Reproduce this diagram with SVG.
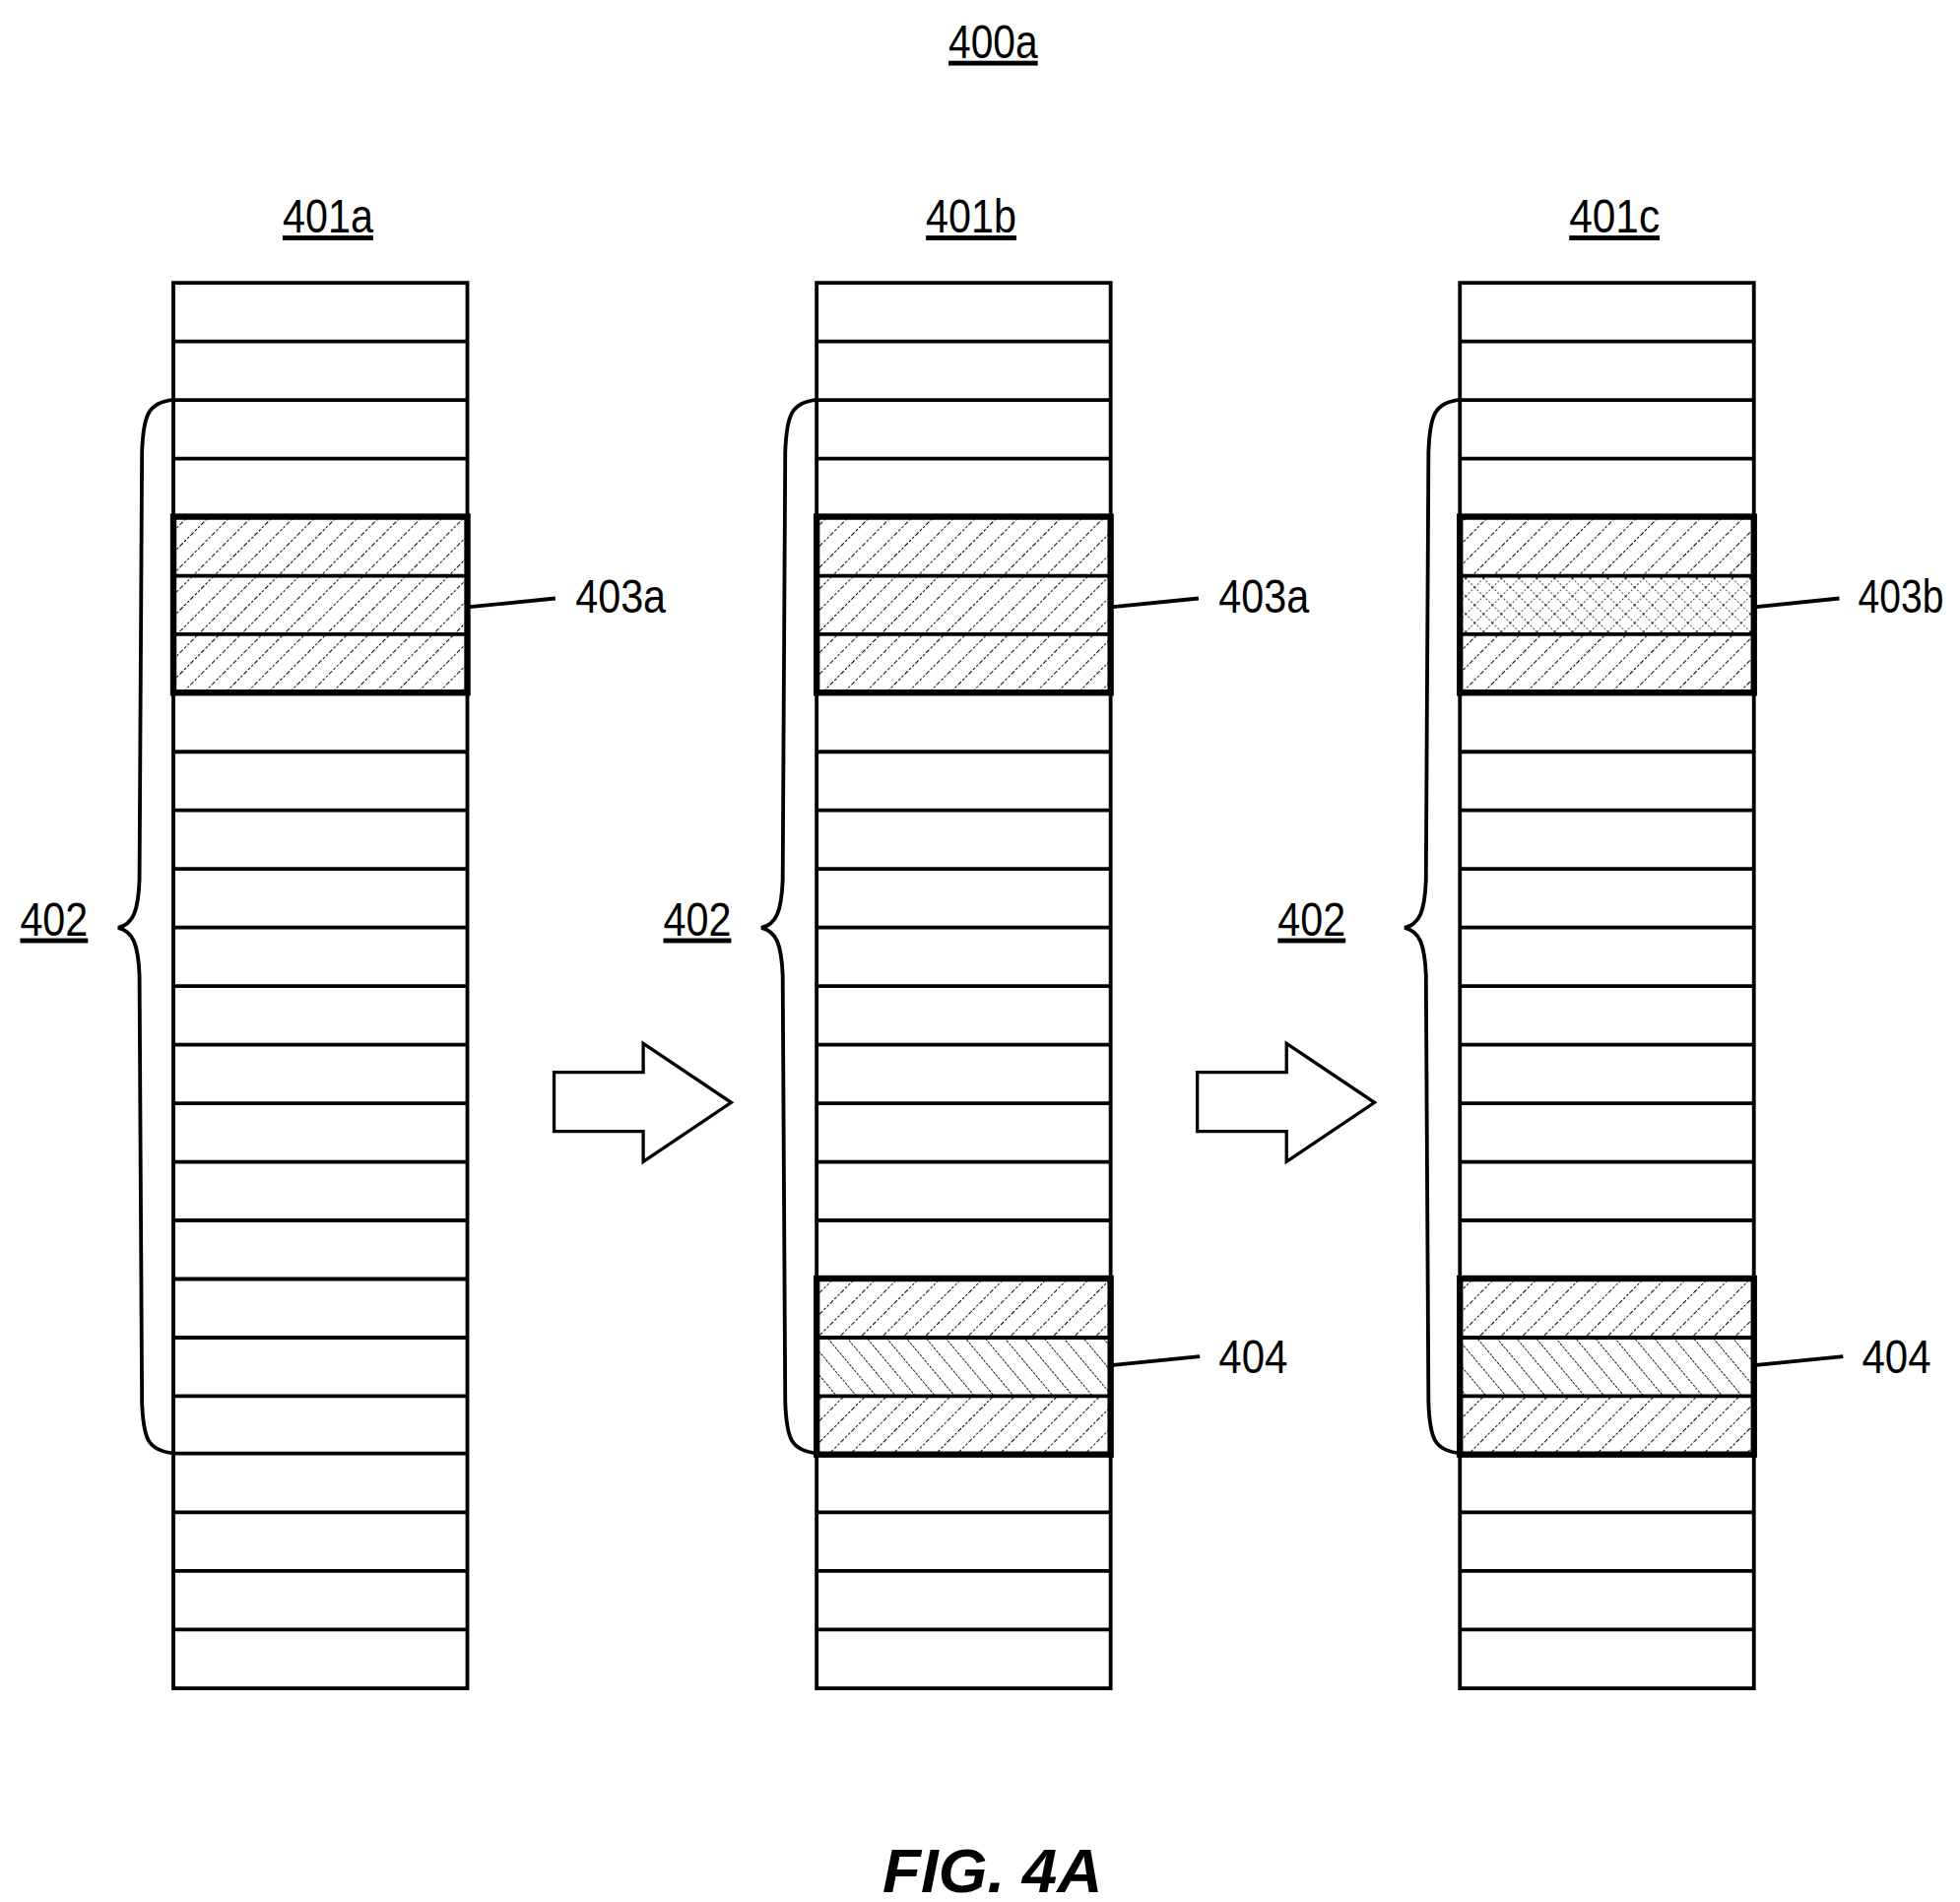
<svg xmlns="http://www.w3.org/2000/svg" width="1990" height="1931" viewBox="0 0 1990 1931">
<style>
.t{font-family:"Liberation Sans",sans-serif;font-size:38px;fill:#000}
.u{text-decoration:underline}
.cell{fill:#fff;stroke:#000;stroke-width:3}
.blk{fill:none;stroke:#000;stroke-width:5}
.ln{stroke:#000;stroke-width:3;fill:none}
</style>
<defs>
<pattern id="fw" width="12" height="12" patternUnits="userSpaceOnUse" patternTransform="rotate(45)">
<rect width="12" height="12" fill="#fff"/>
<line x1="0" y1="0" x2="0" y2="12" stroke="#000" stroke-width="1.6" stroke-dasharray="2 1.5"/>
</pattern>
<pattern id="bw" width="12" height="12" patternUnits="userSpaceOnUse" patternTransform="rotate(-40)">
<rect width="12" height="12" fill="#fff"/>
<line x1="0" y1="0" x2="0" y2="12" stroke="#000" stroke-width="1.4" stroke-dasharray="2 1"/>
</pattern>
<pattern id="xw" width="10" height="10" patternUnits="userSpaceOnUse" patternTransform="rotate(45)">
<rect width="10" height="10" fill="#fff"/>
<line x1="0" y1="0" x2="0" y2="10" stroke="#000" stroke-width="1.2" stroke-dasharray="1.5 1.5"/>
<line x1="0" y1="0" x2="10" y2="0" stroke="#000" stroke-width="1.2" stroke-dasharray="1.5 1.5"/>
</pattern>
<g id="col">
<rect class="cell" x="0" y="225" width="234" height="1118"/>
<path class="ln" d="M0 271.6H234M0 318.2H234M0 364.8H234M0 598H234M0 644.6H234M0 691.2H234M0 737.8H234M0 784.4H234M0 831H234M0 877.6H234M0 924.2H234M0 970.8H234M0 1156.2H234M0 1203H234M0 1249.6H234M0 1296.2H234"/>
<path class="ln" d="M0 1017.4H234M0 1064H234M0 1110.6H234"/>
<path d="M0 318 C-20 320 -24 330 -25 360 L-27 700 C-28 725 -32 735 -44 738 C-32 741 -28 751 -27 776 L-25 1115 C-24 1145 -20 1154 0 1156" fill="none" stroke="#000" stroke-width="3"/>
</g>
<path id="arr" d="M0 853H71V830L141 877L71 924V900H0Z" fill="#fff" stroke="#000" stroke-width="2.6"/>
</defs>
<g transform="scale(1.2756 1.2763)">
<text class="t u" x="755" y="46" textLength="71" lengthAdjust="spacingAndGlyphs">400a</text>
<g id="col-401a">
<text class="t u" x="225" y="185" textLength="72" lengthAdjust="spacingAndGlyphs">401a</text>
<use href="#col" x="138"/>
<rect x="138" y="411" width="234" height="140" fill="url(#fw)"/>
<path class="ln" d="M138 458H372M138 504.5H372"/>
<rect class="blk" x="138" y="411" width="234" height="140"/>
<text class="t u" x="16" y="744" textLength="54" lengthAdjust="spacingAndGlyphs">402</text>
<path class="ln" d="M372 483L442 476"/>
<text class="t" x="458" y="487" textLength="72" lengthAdjust="spacingAndGlyphs">403a</text>
</g>
<g id="col-401b">
<text class="t u" x="737" y="185" textLength="72" lengthAdjust="spacingAndGlyphs">401b</text>
<use href="#col" x="650"/>
<rect x="650" y="411" width="234" height="140" fill="url(#fw)"/>
<path class="ln" d="M650 458H884M650 504.5H884"/>
<rect class="blk" x="650" y="411" width="234" height="140"/>
<rect x="650" y="1017" width="234" height="140" fill="url(#fw)"/>
<rect x="650" y="1064" width="234" height="46.6" fill="url(#bw)"/>
<path class="ln" d="M650 1064H884M650 1110.6H884"/>
<rect class="blk" x="650" y="1017" width="234" height="140"/>
<text class="t u" x="528" y="744" textLength="54" lengthAdjust="spacingAndGlyphs">402</text>
<path class="ln" d="M884 483L954 476"/>
<text class="t" x="970" y="487" textLength="72" lengthAdjust="spacingAndGlyphs">403a</text>
<path class="ln" d="M884 1086L955 1079"/>
<text class="t" x="970" y="1092" textLength="55" lengthAdjust="spacingAndGlyphs">404</text>
</g>
<g id="col-401c">
<text class="t u" x="1249" y="185" textLength="72" lengthAdjust="spacingAndGlyphs">401c</text>
<use href="#col" x="1162"/>
<rect x="1162" y="411" width="234" height="140" fill="url(#fw)"/>
<rect x="1162" y="458" width="234" height="46.6" fill="url(#xw)"/>
<path class="ln" d="M1162 458H1396M1162 504.5H1396"/>
<rect class="blk" x="1162" y="411" width="234" height="140"/>
<rect x="1162" y="1017" width="234" height="140" fill="url(#fw)"/>
<rect x="1162" y="1064" width="234" height="46.6" fill="url(#bw)"/>
<path class="ln" d="M1162 1064H1396M1162 1110.6H1396"/>
<rect class="blk" x="1162" y="1017" width="234" height="140"/>
<text class="t u" x="1017" y="744" textLength="54" lengthAdjust="spacingAndGlyphs">402</text>
<path class="ln" d="M1396 483L1464 476"/>
<text class="t" x="1479" y="487" textLength="68" lengthAdjust="spacingAndGlyphs">403b</text>
<path class="ln" d="M1396 1086L1467 1079"/>
<text class="t" x="1482" y="1092" textLength="55" lengthAdjust="spacingAndGlyphs">404</text>
</g>
<g id="connectors">
<use href="#arr" x="441"/>
<use href="#arr" x="953"/>
</g>
<text x="790" y="1505" text-anchor="middle" style="font-family:'Liberation Sans',sans-serif;font-size:50px;font-weight:bold;font-style:italic">FIG. 4A</text>
</g>
</svg>
